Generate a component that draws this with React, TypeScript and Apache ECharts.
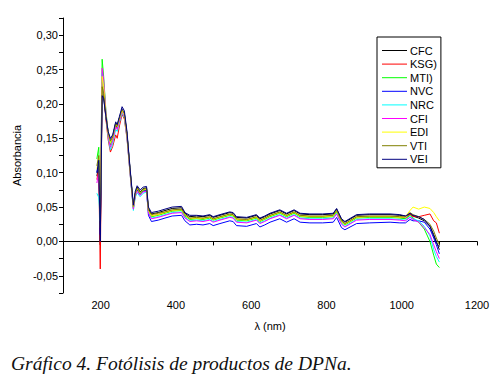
import React, { useEffect, useRef } from "react";
import * as echarts from "echarts";

const wavelengths = [190, 195, 199, 204, 208, 214, 220, 226, 232, 240, 244, 250, 257, 263, 270, 278, 287, 292, 297, 305, 313, 322, 327, 335, 353, 371, 390, 415, 424, 437, 455, 472, 490, 499, 517, 543, 552, 561, 588, 614, 623, 636, 650, 676, 694, 714, 730, 756, 790, 818, 827, 840, 849, 880, 915, 969, 995, 1010, 1022, 1030, 1045, 1060, 1075, 1085, 1092, 1100];

const seriesNames = ["CFC", "KSG)", "MTI)", "NVC", "NRC", "CFI", "EDI", "VTI", "VEI"];
const seriesColors = ["#000000", "#ff0000", "#00ff00", "#0000ff", "#00ffff", "#ff00ff", "#ffff00", "#808000", "#000080"];

const cfc = [0.095, 0.11, -0.005, 0.218, 0.21, 0.18, 0.156, 0.145, 0.15, 0.17, 0.165, 0.178, 0.19, 0.184, 0.156, 0.105, 0.05, 0.07, 0.079, 0.072, 0.077, 0.078, 0.048, 0.04, 0.042, 0.045, 0.048, 0.049, 0.041, 0.036, 0.037, 0.036, 0.038, 0.035, 0.038, 0.042, 0.041, 0.035, 0.034, 0.038, 0.033, 0.036, 0.04, 0.045, 0.04, 0.045, 0.04, 0.039, 0.039, 0.04, 0.047, 0.032, 0.028, 0.038, 0.039, 0.039, 0.038, 0.037, 0.04, 0.037, 0.034, 0.03, 0.022, 0.01, 0.0, -0.012];
const ksg = [0.09, 0.105, -0.04, 0.235, 0.22, 0.178, 0.148, 0.13, 0.138, 0.155, 0.15, 0.168, 0.185, 0.178, 0.15, 0.1, 0.048, 0.068, 0.076, 0.069, 0.074, 0.075, 0.045, 0.037, 0.039, 0.042, 0.045, 0.046, 0.038, 0.033, 0.034, 0.033, 0.035, 0.032, 0.035, 0.039, 0.038, 0.032, 0.031, 0.035, 0.03, 0.033, 0.037, 0.042, 0.037, 0.042, 0.037, 0.036, 0.036, 0.037, 0.044, 0.029, 0.025, 0.035, 0.036, 0.036, 0.035, 0.034, 0.04, 0.036, 0.036, 0.038, 0.04, 0.03, 0.027, 0.012];
const mti = [0.12, 0.137, 0.04, 0.265, 0.24, 0.19, 0.158, 0.14, 0.15, 0.172, 0.168, 0.18, 0.19, 0.183, 0.154, 0.103, 0.049, 0.068, 0.076, 0.069, 0.074, 0.075, 0.044, 0.036, 0.038, 0.041, 0.044, 0.045, 0.037, 0.032, 0.033, 0.032, 0.034, 0.031, 0.034, 0.038, 0.037, 0.031, 0.03, 0.034, 0.029, 0.032, 0.036, 0.041, 0.036, 0.041, 0.036, 0.035, 0.035, 0.036, 0.043, 0.028, 0.024, 0.034, 0.035, 0.035, 0.034, 0.033, 0.038, 0.034, 0.028, 0.018, 0.0, -0.02, -0.033, -0.038];
const nvc = [0.1, 0.115, 0.01, 0.232, 0.22, 0.183, 0.158, 0.148, 0.153, 0.172, 0.168, 0.18, 0.193, 0.186, 0.157, 0.105, 0.05, 0.068, 0.075, 0.068, 0.073, 0.074, 0.038, 0.029, 0.031, 0.034, 0.037, 0.038, 0.03, 0.024, 0.025, 0.024, 0.026, 0.023, 0.026, 0.03, 0.029, 0.023, 0.022, 0.026, 0.021, 0.024, 0.028, 0.033, 0.028, 0.033, 0.028, 0.027, 0.027, 0.028, 0.035, 0.02, 0.017, 0.026, 0.027, 0.028, 0.027, 0.027, 0.032, 0.03, 0.03, 0.028, 0.018, 0.005, -0.005, -0.018];
const nrc = [0.07, 0.064, 0.03, 0.245, 0.228, 0.184, 0.152, 0.133, 0.142, 0.163, 0.16, 0.173, 0.187, 0.18, 0.151, 0.1, 0.045, 0.064, 0.071, 0.065, 0.07, 0.072, 0.042, 0.034, 0.036, 0.039, 0.042, 0.043, 0.035, 0.03, 0.031, 0.03, 0.032, 0.029, 0.032, 0.036, 0.035, 0.029, 0.028, 0.032, 0.027, 0.03, 0.034, 0.039, 0.034, 0.039, 0.034, 0.033, 0.033, 0.034, 0.041, 0.026, 0.022, 0.032, 0.033, 0.033, 0.032, 0.031, 0.036, 0.033, 0.03, 0.022, 0.008, -0.012, -0.022, -0.03];
const cfi = [0.085, 0.1, 0.05, 0.252, 0.235, 0.188, 0.155, 0.137, 0.146, 0.167, 0.163, 0.176, 0.189, 0.182, 0.152, 0.101, 0.047, 0.066, 0.073, 0.067, 0.072, 0.073, 0.041, 0.033, 0.035, 0.038, 0.041, 0.042, 0.034, 0.029, 0.03, 0.029, 0.031, 0.028, 0.031, 0.035, 0.034, 0.028, 0.027, 0.031, 0.026, 0.029, 0.033, 0.038, 0.033, 0.038, 0.033, 0.032, 0.032, 0.033, 0.04, 0.025, 0.021, 0.031, 0.032, 0.032, 0.031, 0.03, 0.035, 0.032, 0.028, 0.02, 0.01, -0.005, -0.015, -0.025];
const edi = [0.105, 0.122, 0.045, 0.24, 0.225, 0.185, 0.157, 0.144, 0.151, 0.171, 0.167, 0.179, 0.19, 0.184, 0.155, 0.104, 0.05, 0.069, 0.077, 0.07, 0.075, 0.076, 0.045, 0.037, 0.039, 0.042, 0.045, 0.046, 0.038, 0.033, 0.034, 0.033, 0.035, 0.032, 0.035, 0.039, 0.038, 0.032, 0.031, 0.035, 0.03, 0.033, 0.037, 0.042, 0.037, 0.042, 0.037, 0.036, 0.036, 0.037, 0.044, 0.029, 0.025, 0.035, 0.036, 0.036, 0.035, 0.036, 0.045, 0.05, 0.047, 0.05, 0.048, 0.042, 0.036, 0.03];
const vti = [0.11, 0.125, 0.02, 0.225, 0.215, 0.183, 0.158, 0.146, 0.152, 0.172, 0.168, 0.18, 0.192, 0.186, 0.157, 0.106, 0.051, 0.07, 0.078, 0.071, 0.076, 0.077, 0.046, 0.039, 0.041, 0.043, 0.046, 0.047, 0.039, 0.034, 0.035, 0.034, 0.036, 0.033, 0.036, 0.04, 0.039, 0.033, 0.032, 0.036, 0.031, 0.034, 0.038, 0.043, 0.038, 0.043, 0.038, 0.037, 0.037, 0.038, 0.045, 0.03, 0.026, 0.036, 0.037, 0.037, 0.036, 0.036, 0.042, 0.039, 0.036, 0.032, 0.025, 0.015, 0.005, -0.005];
const vei = [0.1, 0.118, 0.0, 0.212, 0.208, 0.182, 0.16, 0.15, 0.155, 0.174, 0.17, 0.182, 0.196, 0.19, 0.16, 0.108, 0.053, 0.073, 0.081, 0.075, 0.079, 0.08, 0.05, 0.042, 0.044, 0.047, 0.05, 0.051, 0.042, 0.038, 0.038, 0.037, 0.039, 0.036, 0.039, 0.043, 0.042, 0.036, 0.035, 0.039, 0.034, 0.037, 0.041, 0.046, 0.041, 0.046, 0.041, 0.04, 0.04, 0.041, 0.048, 0.033, 0.029, 0.039, 0.04, 0.04, 0.039, 0.037, 0.041, 0.038, 0.036, 0.032, 0.022, 0.008, -0.002, -0.008];

const seriesValues = [cfc, ksg, mti, nvc, nrc, cfi, edi, vti, vei];

const xTitle = "λ (nm)";
const yTitle = "Absorbancia";
const caption = "Gráfico 4. Fotólisis de productos de DPNa.";

const FONT = "'Liberation Sans', Arial, sans-serif";

export default function App() {
  const ref = useRef<HTMLDivElement>(null);
  useEffect(() => {
    if (!ref.current) return;
    const chart = echarts.init(ref.current, null, { renderer: "svg" });
    chart.setOption({
      animation: false,
      backgroundColor: "#ffffff",
      grid: { left: 63, right: 20, top: 18, bottom: 97 },
      legend: {
        orient: "vertical",
        left: 377,
        top: 37,
        data: seriesNames,
        icon: "rect",
        itemWidth: 25,
        itemHeight: 1,
        itemGap: 2.6,
        padding: [8, 4, 3, 5],
        borderColor: "#000",
        borderWidth: 1,
        textStyle: { fontFamily: FONT, fontSize: 11, color: "#000", padding: [0, 0, 0, -2] },
      },
      xAxis: {
        type: "value",
        min: 100,
        max: 1200,
        interval: 100,
        name: xTitle,
        nameLocation: "middle",
        nameGap: 27,
        nameTextStyle: { fontFamily: FONT, fontSize: 11, color: "#000" },
        axisLine: { show: true, lineStyle: { color: "#000", width: 1 } },
        axisTick: { show: true, length: 4, lineStyle: { color: "#000" } },
        axisLabel: {
          fontFamily: FONT,
          fontSize: 11,
          color: "#000",
          margin: 6,
          formatter: (v: number) => (Math.round(v) % 200 === 0 ? String(Math.round(v)) : ""),
        },
        splitLine: { show: false },
      },
      yAxis: {
        type: "value",
        min: -0.075,
        max: 0.325,
        interval: 0.025,
        name: yTitle,
        nameLocation: "middle",
        nameGap: 40,
        nameTextStyle: { fontFamily: FONT, fontSize: 11, color: "#000" },
        axisLine: { show: true, lineStyle: { color: "#000", width: 1 } },
        axisTick: { show: true, length: 4, lineStyle: { color: "#000" } },
        axisLabel: {
          fontFamily: FONT,
          fontSize: 11,
          color: "#000",
          margin: 5,
          formatter: (v: number) => {
            const m = Math.round(v * 1000);
            return m % 50 === 0 ? (m / 1000).toFixed(2).replace(".", ",") : "";
          },
        },
        splitLine: { show: false },
      },
      series: seriesNames.map((name, i) => ({
        name,
        type: "line",
        symbol: "none",
        color: seriesColors[i],
        lineStyle: { width: 1, color: seriesColors[i] },
        data: wavelengths.map((w, j) => [w, seriesValues[i][j]]),
      })),
      graphic: [
        {
          type: "text",
          left: 11,
          top: 353,
          style: {
            text: caption,
            font: "italic 19.5px 'Liberation Serif', 'Times New Roman', serif",
            fill: "#111",
          },
        },
      ],
    });
    return () => chart.dispose();
  }, []);
  return <div ref={ref} style={{ position: "absolute", left: 0, top: 0, width: 497, height: 390 }} />;
}
